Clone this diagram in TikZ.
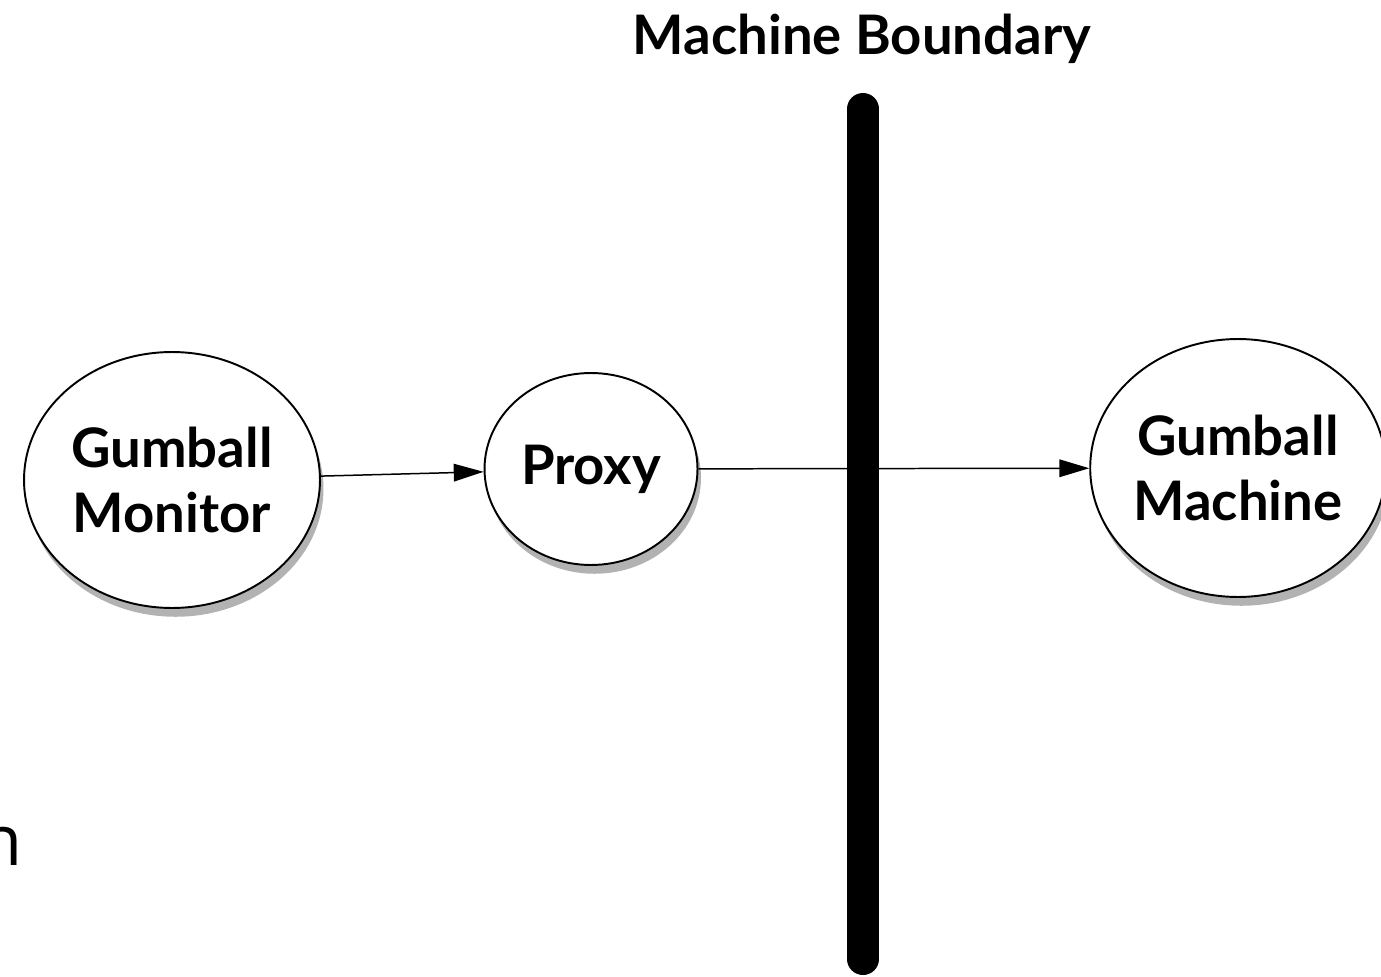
\documentclass[tikz,border=0pt]{standalone}
\usepackage{fontspec}
\setmainfont{Lato}
\newfontfamily\cutfont{Open Sans}
\usetikzlibrary{arrows.meta,shapes.geometric,shadows,positioning}

\begin{document}
\begin{tikzpicture}[x=0.02cm, y=-0.02cm,
        bubble/.style={ellipse, draw=black, line width=1.1pt, fill=white, align=center, inner sep=0pt,
            font=\fontsize{31}{37}\selectfont\bfseries,
            drop shadow={shadow xshift=2pt, shadow yshift=-5pt, fill=black, opacity=0.3}},
        link/.style={-{Triangle[length=17pt,width=10pt]}, line width=0.85pt}]
        % basics
        \useasboundingbox (0,0) rectangle (1381,976);
        \node[anchor=base, font=\fontsize{31}{37}\selectfont\bfseries] (title) at (862,55) {Machine Boundary};
        \node[anchor=base west, inner sep=0pt, font=\fontsize{40}{48}\selectfont\cutfont] (cut) at (-21,865) {n};
        
        % boundary bar
        \coordinate (bartop) at (863,109);
        \coordinate (barbot) at (863,959);
        \draw[line width=0.64cm, line cap=round] (bartop) -- (barbot);
        
        % bubbles
        \node[bubble, minimum width=5.92cm, minimum height=5.12cm] (monitor) at (172,480) {Gumball\\Monitor};
        \node[bubble, minimum width=4.26cm, minimum height=3.84cm] (proxy) at (591,469) {Proxy};
        \node[bubble, minimum width=5.8cm, minimum height=5.16cm] (machine) at (1238,468) {Gumball\\Machine};
        
        %% calls
        \draw[link] (monitor) -- (proxy);
        \draw[link] (proxy) -- (machine);
        
    \end{tikzpicture}
\end{document}
